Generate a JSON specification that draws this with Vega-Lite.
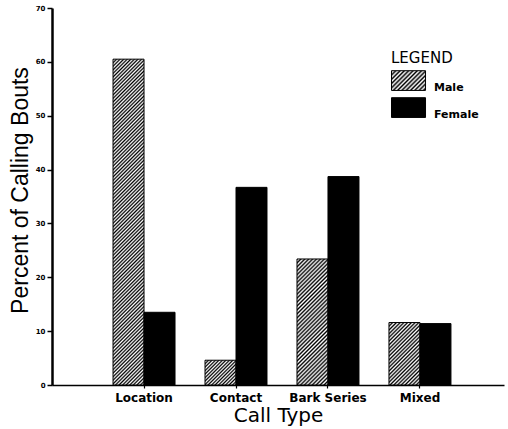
{
  "$schema": "https://vega.github.io/schema/vega-lite/v6.json",
  "width": 452,
  "height": 377,
  "autosize": {"type": "none"},
  "padding": {"left": 52, "top": 8, "right": 4, "bottom": 44},
  "background": "white",
  "config": {"view": {"stroke": null}},
  "data": {"values": [
    {"type": "Location", "sex": "Male", "pct": 60.5},
    {"type": "Location", "sex": "Female", "pct": 13.5},
    {"type": "Contact", "sex": "Male", "pct": 4.6},
    {"type": "Contact", "sex": "Female", "pct": 36.7},
    {"type": "Bark Series", "sex": "Male", "pct": 23.4},
    {"type": "Bark Series", "sex": "Female", "pct": 38.7},
    {"type": "Mixed", "sex": "Male", "pct": 11.6},
    {"type": "Mixed", "sex": "Female", "pct": 11.4}
  ]},
  "mark": {"type": "bar", "stroke": "#000", "strokeWidth": 1},
  "encoding": {
    "x": {
      "field": "type", "type": "nominal",
      "sort": ["Location", "Contact", "Bark Series", "Mixed"],
      "scale": {"paddingInner": 0.326, "paddingOuter": 0.62, "align": 0.535},
      "axis": {
        "labelAngle": 0, "labelFont": "DejaVu Sans", "labelFontWeight": "bold", "labelFontSize": 12,
        "labelColor": "#000", "labelPadding": 4, "tickSize": 3, "tickColor": "#000", "tickWidth": 1.2,
        "domainColor": "#000", "domainWidth": 1.5,
        "title": "Call Type", "titleFont": "DejaVu Sans", "titleFontSize": 20, "titleFontWeight": "normal",
        "titleColor": "#000", "titlePadding": 2
      }
    },
    "xOffset": {
      "field": "sex", "type": "nominal", "sort": ["Male", "Female"],
      "scale": {"paddingInner": 0, "paddingOuter": 0}
    },
    "y": {
      "field": "pct", "type": "quantitative",
      "scale": {"domain": [0, 70], "nice": false},
      "axis": {
        "values": [0, 10, 20, 30, 40, 50, 60, 70], "grid": false,
        "labelFont": "DejaVu Sans", "labelFontWeight": "bold", "labelFontSize": 7, "labelColor": "#000",
        "labelPadding": 2, "tickSize": 5, "tickColor": "#000", "tickWidth": 1.5,
        "domainColor": "#000", "domainWidth": 2.5,
        "title": "Percent of Calling Bouts", "titleFont": "Liberation Sans", "titleFontSize": 23,
        "titleFontWeight": "normal", "titleColor": "#000", "titlePadding": 3, "titleY": 182
      }
    },
    "opacity": {
      "field": "sex", "type": "nominal",
      "scale": {"domain": ["Male", "Female"], "range": [1, 1]},
      "legend": {
        "orient": "none", "legendX": 339, "legendY": 43, "padding": 0,
        "title": "LEGEND", "titleFont": "DejaVu Sans", "titleFontSize": 15, "titleFontWeight": "normal",
        "titleColor": "#000", "titlePadding": 7,
        "labelFont": "DejaVu Sans", "labelFontWeight": "bold", "labelFontSize": 11, "labelColor": "#000",
        "labelOffset": 14, "rowPadding": 2,
        "symbolType": "M-1,-1.2H1.43V0.21H-1Z", "symbolSize": 784, "symbolStrokeColor": "#000",
        "symbolStrokeWidth": 1,
        "encoding": {"symbols": {
          "stroke": {"value": "#000000"},
          "strokeWidth": {"value": 1},
          "fill": {
            "condition": {"test": "datum.value === 'Male'", "value":
              {"gradient": "linear", "x1": 0, "y1": 0, "x2": 1.1825, "y2": 0.6852, "stops": [
                {"offset": 0, "color": "#000"}, {"offset": 0.04, "color": "#fff"}, {"offset": 0.08, "color": "#000"}, {"offset": 0.12, "color": "#fff"},
                {"offset": 0.16, "color": "#000"}, {"offset": 0.2, "color": "#fff"}, {"offset": 0.24, "color": "#000"}, {"offset": 0.28, "color": "#fff"},
                {"offset": 0.32, "color": "#000"}, {"offset": 0.36, "color": "#fff"}, {"offset": 0.4, "color": "#000"}, {"offset": 0.44, "color": "#fff"},
                {"offset": 0.48, "color": "#000"}, {"offset": 0.52, "color": "#fff"}, {"offset": 0.56, "color": "#000"}, {"offset": 0.6, "color": "#fff"},
                {"offset": 0.64, "color": "#000"}, {"offset": 0.68, "color": "#fff"}, {"offset": 0.72, "color": "#000"}, {"offset": 0.76, "color": "#fff"},
                {"offset": 0.8, "color": "#000"}, {"offset": 0.84, "color": "#fff"}, {"offset": 0.88, "color": "#000"}, {"offset": 0.92, "color": "#fff"},
                {"offset": 0.96, "color": "#000"}, {"offset": 1, "color": "#fff"}
              ]}
            },
            "value": "#000000"
          }
        }}
      }
    },
    "fill": {
      "value": "#000000",
      "condition": [
        {"test": "datum.sex === 'Male' && datum.type === 'Location'", "value":
          {"gradient": "linear", "x1": 0, "y1": 0, "x2": 0.1033, "y2": 1.0853, "stops": [
            {"offset": 0, "color": "#000"}, {"offset": 0.005, "color": "#fff"}, {"offset": 0.01, "color": "#000"}, {"offset": 0.015, "color": "#fff"},
            {"offset": 0.02, "color": "#000"}, {"offset": 0.025, "color": "#fff"}, {"offset": 0.03, "color": "#000"}, {"offset": 0.035, "color": "#fff"},
            {"offset": 0.04, "color": "#000"}, {"offset": 0.045, "color": "#fff"}, {"offset": 0.05, "color": "#000"}, {"offset": 0.055, "color": "#fff"},
            {"offset": 0.06, "color": "#000"}, {"offset": 0.065, "color": "#fff"}, {"offset": 0.07, "color": "#000"}, {"offset": 0.075, "color": "#fff"},
            {"offset": 0.08, "color": "#000"}, {"offset": 0.085, "color": "#fff"}, {"offset": 0.09, "color": "#000"}, {"offset": 0.095, "color": "#fff"},
            {"offset": 0.1, "color": "#000"}, {"offset": 0.105, "color": "#fff"}, {"offset": 0.11, "color": "#000"}, {"offset": 0.115, "color": "#fff"},
            {"offset": 0.12, "color": "#000"}, {"offset": 0.125, "color": "#fff"}, {"offset": 0.13, "color": "#000"}, {"offset": 0.135, "color": "#fff"},
            {"offset": 0.14, "color": "#000"}, {"offset": 0.145, "color": "#fff"}, {"offset": 0.15, "color": "#000"}, {"offset": 0.155, "color": "#fff"},
            {"offset": 0.16, "color": "#000"}, {"offset": 0.165, "color": "#fff"}, {"offset": 0.17, "color": "#000"}, {"offset": 0.175, "color": "#fff"},
            {"offset": 0.18, "color": "#000"}, {"offset": 0.185, "color": "#fff"}, {"offset": 0.19, "color": "#000"}, {"offset": 0.195, "color": "#fff"},
            {"offset": 0.2, "color": "#000"}, {"offset": 0.205, "color": "#fff"}, {"offset": 0.21, "color": "#000"}, {"offset": 0.215, "color": "#fff"},
            {"offset": 0.22, "color": "#000"}, {"offset": 0.225, "color": "#fff"}, {"offset": 0.23, "color": "#000"}, {"offset": 0.235, "color": "#fff"},
            {"offset": 0.24, "color": "#000"}, {"offset": 0.245, "color": "#fff"}, {"offset": 0.25, "color": "#000"}, {"offset": 0.255, "color": "#fff"},
            {"offset": 0.26, "color": "#000"}, {"offset": 0.265, "color": "#fff"}, {"offset": 0.27, "color": "#000"}, {"offset": 0.275, "color": "#fff"},
            {"offset": 0.28, "color": "#000"}, {"offset": 0.285, "color": "#fff"}, {"offset": 0.29, "color": "#000"}, {"offset": 0.295, "color": "#fff"},
            {"offset": 0.3, "color": "#000"}, {"offset": 0.305, "color": "#fff"}, {"offset": 0.31, "color": "#000"}, {"offset": 0.315, "color": "#fff"},
            {"offset": 0.32, "color": "#000"}, {"offset": 0.325, "color": "#fff"}, {"offset": 0.33, "color": "#000"}, {"offset": 0.335, "color": "#fff"},
            {"offset": 0.34, "color": "#000"}, {"offset": 0.345, "color": "#fff"}, {"offset": 0.35, "color": "#000"}, {"offset": 0.355, "color": "#fff"},
            {"offset": 0.36, "color": "#000"}, {"offset": 0.365, "color": "#fff"}, {"offset": 0.37, "color": "#000"}, {"offset": 0.375, "color": "#fff"},
            {"offset": 0.38, "color": "#000"}, {"offset": 0.385, "color": "#fff"}, {"offset": 0.39, "color": "#000"}, {"offset": 0.395, "color": "#fff"},
            {"offset": 0.4, "color": "#000"}, {"offset": 0.405, "color": "#fff"}, {"offset": 0.41, "color": "#000"}, {"offset": 0.415, "color": "#fff"},
            {"offset": 0.42, "color": "#000"}, {"offset": 0.425, "color": "#fff"}, {"offset": 0.43, "color": "#000"}, {"offset": 0.435, "color": "#fff"},
            {"offset": 0.44, "color": "#000"}, {"offset": 0.445, "color": "#fff"}, {"offset": 0.45, "color": "#000"}, {"offset": 0.455, "color": "#fff"},
            {"offset": 0.46, "color": "#000"}, {"offset": 0.465, "color": "#fff"}, {"offset": 0.47, "color": "#000"}, {"offset": 0.475, "color": "#fff"},
            {"offset": 0.48, "color": "#000"}, {"offset": 0.485, "color": "#fff"}, {"offset": 0.49, "color": "#000"}, {"offset": 0.495, "color": "#fff"},
            {"offset": 0.5, "color": "#000"}, {"offset": 0.505, "color": "#fff"}, {"offset": 0.51, "color": "#000"}, {"offset": 0.515, "color": "#fff"},
            {"offset": 0.52, "color": "#000"}, {"offset": 0.525, "color": "#fff"}, {"offset": 0.53, "color": "#000"}, {"offset": 0.535, "color": "#fff"},
            {"offset": 0.54, "color": "#000"}, {"offset": 0.545, "color": "#fff"}, {"offset": 0.55, "color": "#000"}, {"offset": 0.555, "color": "#fff"},
            {"offset": 0.56, "color": "#000"}, {"offset": 0.565, "color": "#fff"}, {"offset": 0.57, "color": "#000"}, {"offset": 0.575, "color": "#fff"},
            {"offset": 0.58, "color": "#000"}, {"offset": 0.585, "color": "#fff"}, {"offset": 0.59, "color": "#000"}, {"offset": 0.595, "color": "#fff"},
            {"offset": 0.6, "color": "#000"}, {"offset": 0.605, "color": "#fff"}, {"offset": 0.61, "color": "#000"}, {"offset": 0.615, "color": "#fff"},
            {"offset": 0.62, "color": "#000"}, {"offset": 0.625, "color": "#fff"}, {"offset": 0.63, "color": "#000"}, {"offset": 0.635, "color": "#fff"},
            {"offset": 0.64, "color": "#000"}, {"offset": 0.645, "color": "#fff"}, {"offset": 0.65, "color": "#000"}, {"offset": 0.655, "color": "#fff"},
            {"offset": 0.66, "color": "#000"}, {"offset": 0.665, "color": "#fff"}, {"offset": 0.67, "color": "#000"}, {"offset": 0.675, "color": "#fff"},
            {"offset": 0.68, "color": "#000"}, {"offset": 0.685, "color": "#fff"}, {"offset": 0.69, "color": "#000"}, {"offset": 0.695, "color": "#fff"},
            {"offset": 0.7, "color": "#000"}, {"offset": 0.705, "color": "#fff"}, {"offset": 0.71, "color": "#000"}, {"offset": 0.715, "color": "#fff"},
            {"offset": 0.72, "color": "#000"}, {"offset": 0.725, "color": "#fff"}, {"offset": 0.73, "color": "#000"}, {"offset": 0.735, "color": "#fff"},
            {"offset": 0.74, "color": "#000"}, {"offset": 0.745, "color": "#fff"}, {"offset": 0.75, "color": "#000"}, {"offset": 0.755, "color": "#fff"},
            {"offset": 0.76, "color": "#000"}, {"offset": 0.765, "color": "#fff"}, {"offset": 0.77, "color": "#000"}, {"offset": 0.775, "color": "#fff"},
            {"offset": 0.78, "color": "#000"}, {"offset": 0.785, "color": "#fff"}, {"offset": 0.79, "color": "#000"}, {"offset": 0.795, "color": "#fff"},
            {"offset": 0.8, "color": "#000"}, {"offset": 0.805, "color": "#fff"}, {"offset": 0.81, "color": "#000"}, {"offset": 0.815, "color": "#fff"},
            {"offset": 0.82, "color": "#000"}, {"offset": 0.825, "color": "#fff"}, {"offset": 0.83, "color": "#000"}, {"offset": 0.835, "color": "#fff"},
            {"offset": 0.84, "color": "#000"}, {"offset": 0.845, "color": "#fff"}, {"offset": 0.85, "color": "#000"}, {"offset": 0.855, "color": "#fff"},
            {"offset": 0.86, "color": "#000"}, {"offset": 0.865, "color": "#fff"}, {"offset": 0.87, "color": "#000"}, {"offset": 0.875, "color": "#fff"},
            {"offset": 0.88, "color": "#000"}, {"offset": 0.885, "color": "#fff"}, {"offset": 0.89, "color": "#000"}, {"offset": 0.895, "color": "#fff"},
            {"offset": 0.9, "color": "#000"}, {"offset": 0.905, "color": "#fff"}, {"offset": 0.91, "color": "#000"}, {"offset": 0.915, "color": "#fff"},
            {"offset": 0.92, "color": "#000"}, {"offset": 0.925, "color": "#fff"}, {"offset": 0.93, "color": "#000"}, {"offset": 0.935, "color": "#fff"},
            {"offset": 0.94, "color": "#000"}, {"offset": 0.945, "color": "#fff"}, {"offset": 0.95, "color": "#000"}, {"offset": 0.955, "color": "#fff"},
            {"offset": 0.96, "color": "#000"}, {"offset": 0.965, "color": "#fff"}, {"offset": 0.97, "color": "#000"}, {"offset": 0.975, "color": "#fff"},
            {"offset": 0.98, "color": "#000"}, {"offset": 0.985, "color": "#fff"}, {"offset": 0.99, "color": "#000"}, {"offset": 0.995, "color": "#fff"},
            {"offset": 1, "color": "#000"}
          ]}
        },
        {"test": "datum.sex === 'Male' && datum.type === 'Contact'", "value":
          {"gradient": "linear", "x1": 0, "y1": 0, "x2": 1.0976, "y2": 0.8781, "stops": [
            {"offset": 0, "color": "#000"}, {"offset": 0.03125, "color": "#fff"}, {"offset": 0.0625, "color": "#000"}, {"offset": 0.09375, "color": "#fff"},
            {"offset": 0.125, "color": "#000"}, {"offset": 0.15625, "color": "#fff"}, {"offset": 0.1875, "color": "#000"}, {"offset": 0.21875, "color": "#fff"},
            {"offset": 0.25, "color": "#000"}, {"offset": 0.28125, "color": "#fff"}, {"offset": 0.3125, "color": "#000"}, {"offset": 0.34375, "color": "#fff"},
            {"offset": 0.375, "color": "#000"}, {"offset": 0.40625, "color": "#fff"}, {"offset": 0.4375, "color": "#000"}, {"offset": 0.46875, "color": "#fff"},
            {"offset": 0.5, "color": "#000"}, {"offset": 0.53125, "color": "#fff"}, {"offset": 0.5625, "color": "#000"}, {"offset": 0.59375, "color": "#fff"},
            {"offset": 0.625, "color": "#000"}, {"offset": 0.65625, "color": "#fff"}, {"offset": 0.6875, "color": "#000"}, {"offset": 0.71875, "color": "#fff"},
            {"offset": 0.75, "color": "#000"}, {"offset": 0.78125, "color": "#fff"}, {"offset": 0.8125, "color": "#000"}, {"offset": 0.84375, "color": "#fff"},
            {"offset": 0.875, "color": "#000"}, {"offset": 0.90625, "color": "#fff"}, {"offset": 0.9375, "color": "#000"}, {"offset": 0.96875, "color": "#fff"},
            {"offset": 1, "color": "#000"}
          ]}
        },
        {"test": "datum.sex === 'Male' && datum.type === 'Bark Series'", "value":
          {"gradient": "linear", "x1": 0, "y1": 0, "x2": 0.2891, "y2": 1.1749, "stops": [
            {"offset": 0, "color": "#000"}, {"offset": 0.0125, "color": "#fff"}, {"offset": 0.025, "color": "#000"}, {"offset": 0.0375, "color": "#fff"},
            {"offset": 0.05, "color": "#000"}, {"offset": 0.0625, "color": "#fff"}, {"offset": 0.075, "color": "#000"}, {"offset": 0.0875, "color": "#fff"},
            {"offset": 0.1, "color": "#000"}, {"offset": 0.1125, "color": "#fff"}, {"offset": 0.125, "color": "#000"}, {"offset": 0.1375, "color": "#fff"},
            {"offset": 0.15, "color": "#000"}, {"offset": 0.1625, "color": "#fff"}, {"offset": 0.175, "color": "#000"}, {"offset": 0.1875, "color": "#fff"},
            {"offset": 0.2, "color": "#000"}, {"offset": 0.2125, "color": "#fff"}, {"offset": 0.225, "color": "#000"}, {"offset": 0.2375, "color": "#fff"},
            {"offset": 0.25, "color": "#000"}, {"offset": 0.2625, "color": "#fff"}, {"offset": 0.275, "color": "#000"}, {"offset": 0.2875, "color": "#fff"},
            {"offset": 0.3, "color": "#000"}, {"offset": 0.3125, "color": "#fff"}, {"offset": 0.325, "color": "#000"}, {"offset": 0.3375, "color": "#fff"},
            {"offset": 0.35, "color": "#000"}, {"offset": 0.3625, "color": "#fff"}, {"offset": 0.375, "color": "#000"}, {"offset": 0.3875, "color": "#fff"},
            {"offset": 0.4, "color": "#000"}, {"offset": 0.4125, "color": "#fff"}, {"offset": 0.425, "color": "#000"}, {"offset": 0.4375, "color": "#fff"},
            {"offset": 0.45, "color": "#000"}, {"offset": 0.4625, "color": "#fff"}, {"offset": 0.475, "color": "#000"}, {"offset": 0.4875, "color": "#fff"},
            {"offset": 0.5, "color": "#000"}, {"offset": 0.5125, "color": "#fff"}, {"offset": 0.525, "color": "#000"}, {"offset": 0.5375, "color": "#fff"},
            {"offset": 0.55, "color": "#000"}, {"offset": 0.5625, "color": "#fff"}, {"offset": 0.575, "color": "#000"}, {"offset": 0.5875, "color": "#fff"},
            {"offset": 0.6, "color": "#000"}, {"offset": 0.6125, "color": "#fff"}, {"offset": 0.625, "color": "#000"}, {"offset": 0.6375, "color": "#fff"},
            {"offset": 0.65, "color": "#000"}, {"offset": 0.6625, "color": "#fff"}, {"offset": 0.675, "color": "#000"}, {"offset": 0.6875, "color": "#fff"},
            {"offset": 0.7, "color": "#000"}, {"offset": 0.7125, "color": "#fff"}, {"offset": 0.725, "color": "#000"}, {"offset": 0.7375, "color": "#fff"},
            {"offset": 0.75, "color": "#000"}, {"offset": 0.7625, "color": "#fff"}, {"offset": 0.775, "color": "#000"}, {"offset": 0.7875, "color": "#fff"},
            {"offset": 0.8, "color": "#000"}, {"offset": 0.8125, "color": "#fff"}, {"offset": 0.825, "color": "#000"}, {"offset": 0.8375, "color": "#fff"},
            {"offset": 0.85, "color": "#000"}, {"offset": 0.8625, "color": "#fff"}, {"offset": 0.875, "color": "#000"}, {"offset": 0.8875, "color": "#fff"},
            {"offset": 0.9, "color": "#000"}, {"offset": 0.9125, "color": "#fff"}, {"offset": 0.925, "color": "#000"}, {"offset": 0.9375, "color": "#fff"},
            {"offset": 0.95, "color": "#000"}, {"offset": 0.9625, "color": "#fff"}, {"offset": 0.975, "color": "#000"}, {"offset": 0.9875, "color": "#fff"},
            {"offset": 1, "color": "#000"}
          ]}
        },
        {"test": "datum.sex === 'Male' && datum.type === 'Mixed'", "value":
          {"gradient": "linear", "x1": 0, "y1": 0, "x2": 0.5955, "y2": 1.2007, "stops": [
            {"offset": 0, "color": "#000"}, {"offset": 0.02, "color": "#fff"}, {"offset": 0.04, "color": "#000"}, {"offset": 0.06, "color": "#fff"},
            {"offset": 0.08, "color": "#000"}, {"offset": 0.1, "color": "#fff"}, {"offset": 0.12, "color": "#000"}, {"offset": 0.14, "color": "#fff"},
            {"offset": 0.16, "color": "#000"}, {"offset": 0.18, "color": "#fff"}, {"offset": 0.2, "color": "#000"}, {"offset": 0.22, "color": "#fff"},
            {"offset": 0.24, "color": "#000"}, {"offset": 0.26, "color": "#fff"}, {"offset": 0.28, "color": "#000"}, {"offset": 0.3, "color": "#fff"},
            {"offset": 0.32, "color": "#000"}, {"offset": 0.34, "color": "#fff"}, {"offset": 0.36, "color": "#000"}, {"offset": 0.38, "color": "#fff"},
            {"offset": 0.4, "color": "#000"}, {"offset": 0.42, "color": "#fff"}, {"offset": 0.44, "color": "#000"}, {"offset": 0.46, "color": "#fff"},
            {"offset": 0.48, "color": "#000"}, {"offset": 0.5, "color": "#fff"}, {"offset": 0.52, "color": "#000"}, {"offset": 0.54, "color": "#fff"},
            {"offset": 0.56, "color": "#000"}, {"offset": 0.58, "color": "#fff"}, {"offset": 0.6, "color": "#000"}, {"offset": 0.62, "color": "#fff"},
            {"offset": 0.64, "color": "#000"}, {"offset": 0.66, "color": "#fff"}, {"offset": 0.68, "color": "#000"}, {"offset": 0.7, "color": "#fff"},
            {"offset": 0.72, "color": "#000"}, {"offset": 0.74, "color": "#fff"}, {"offset": 0.76, "color": "#000"}, {"offset": 0.78, "color": "#fff"},
            {"offset": 0.8, "color": "#000"}, {"offset": 0.82, "color": "#fff"}, {"offset": 0.84, "color": "#000"}, {"offset": 0.86, "color": "#fff"},
            {"offset": 0.88, "color": "#000"}, {"offset": 0.9, "color": "#fff"}, {"offset": 0.92, "color": "#000"}, {"offset": 0.94, "color": "#fff"},
            {"offset": 0.96, "color": "#000"}, {"offset": 0.98, "color": "#fff"}, {"offset": 1, "color": "#000"}
          ]}
        }
      ]
    }
  }
}
